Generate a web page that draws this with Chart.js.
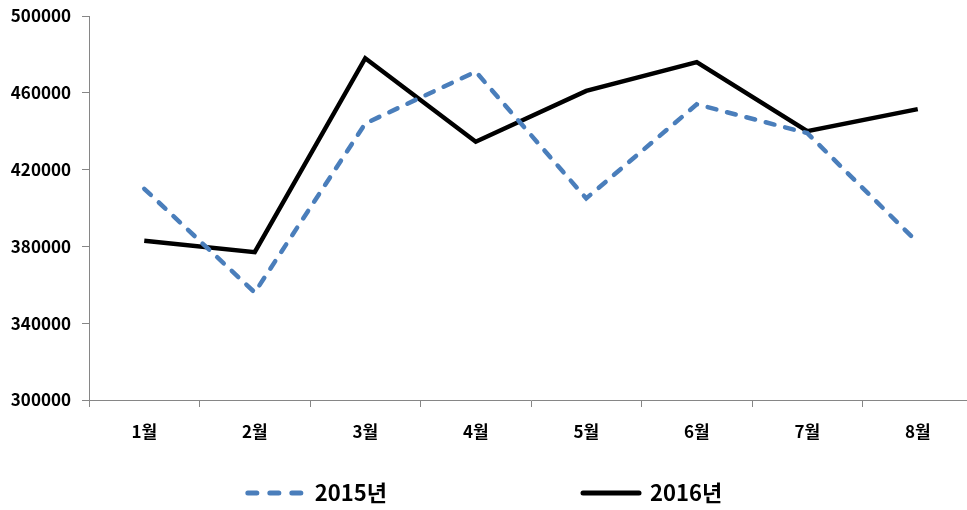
<!DOCTYPE html>
<html lang="ko">
<head>
<meta charset="utf-8">
<title>2015년 / 2016년 월별</title>
<script src="https://cdn.jsdelivr.net/npm/chart.js@4/dist/chart.umd.min.js"></script>
<style>
    html, body { margin: 0; padding: 0; background: #fff; overflow: hidden; }
    #wrap { width: 985px; height: 510px; position: relative; }
</style>
</head>
<body>
<div id="wrap"><canvas id="line-chart"></canvas></div>
<script>

const months = ['1월', '2월', '3월', '4월', '5월', '6월', '7월', '8월'];

const seriesNames = ['2015년', '2016년'];

const values2015 = [410000, 356000, 444000, 471000, 405000, 454000, 439000, 382000];
const values2016 = [383000, 377000, 478000, 434500, 461000, 476000, 440000, 451500];

const yTicks = [300000, 340000, 380000, 420000, 460000, 500000];


const fontFamily = "'Noto Sans CJK KR', 'Noto Sans', sans-serif";
const axisColor = '#868686';

// legend drawn by hand: dashed sample + text, centred under the visible area
const bottomLegend = {
    id: 'bottomLegend',
    afterDraw(chart) {
        const ctx = chart.ctx;
        const sets = chart.data.datasets;
        const sampleLen = 62;
        const textGap = 8;
        const itemGap = 193;
        const y = 493;

        ctx.save();
        ctx.font = `bold 22px ${fontFamily}`;
        const widths = sets.map((ds) => sampleLen + textGap + ctx.measureText(ds.label).width);
        const total = widths.reduce((a, b) => a + b, 0) + itemGap * (sets.length - 1);
        let x = 483.5 - total / 2;

        sets.forEach((ds, i) => {
            ctx.beginPath();
            ctx.strokeStyle = ds.borderColor;
            ctx.lineWidth = 5;
            ctx.lineCap = 'round';
            ctx.setLineDash(ds.legendDash || []);
            ctx.moveTo(x + 3, y);
            ctx.lineTo(x + sampleLen - 3, y);
            ctx.stroke();
            ctx.setLineDash([]);

            ctx.fillStyle = '#000';
            ctx.textBaseline = 'middle';
            ctx.textAlign = 'left';
            ctx.fillText(ds.label, x + sampleLen + textGap, y);
            x += widths[i] + itemGap;
        });
        ctx.restore();
    }
};


const ctx = document.getElementById('line-chart').getContext('2d');

new Chart(ctx, {
    type: 'line',
    data: {
        labels: months,
        datasets: [{
            label: seriesNames[0],
            data: values2015,
            borderColor: '#4A7EBB',
            borderWidth: 4.5,
            borderDash: [9, 11],
            borderCapStyle: 'round',
            legendDash: [9, 13],
            pointRadius: 0,
            tension: 0,
            fill: false
        }, {
            label: seriesNames[1],
            data: values2016,
            borderColor: '#000000',
            borderWidth: 4.5,
            borderJoinStyle: 'miter',
            pointRadius: 0,
            tension: 0,
            fill: false
        }]
    },
    options: {
        responsive: true,
        maintainAspectRatio: false,
        animation: false,
        layout: {
            padding: { top: 16, left: 0, right: 12, bottom: 0 }
        },
        plugins: {
            legend: { display: false },
            tooltip: { enabled: false }
        },
        scales: {
            x: {
                offset: true,
                afterFit: (scale) => { scale.height = 110; },
                border: { display: true, color: axisColor, width: 1 },
                grid: {
                    offset: true,
                    drawOnChartArea: false,
                    drawTicks: true,
                    tickLength: 7,
                    color: axisColor
                },
                ticks: {
                    color: '#000',
                    padding: 14,
                    font: { family: fontFamily, size: 17, weight: 'bold' }
                }
            },
            y: {
                min: yTicks[0],
                max: yTicks[yTicks.length - 1],
                afterFit: (scale) => {
                    scale.width = 89;
                    scale.paddingTop = 0;
                    scale.paddingBottom = 0;
                },
                afterBuildTicks: (scale) => {
                    scale.ticks = yTicks.map((v) => ({ value: v }));
                },
                border: { display: true, color: axisColor, width: 1 },
                grid: {
                    drawOnChartArea: false,
                    drawTicks: true,
                    tickLength: 7,
                    color: axisColor
                },
                ticks: {
                    color: '#000',
                    padding: 11,
                    callback: (v) => String(v),
                    font: { family: fontFamily, size: 17, weight: 'bold' }
                }
            }
        }
    },
    plugins: [bottomLegend]
});

</script>
</body>
</html>
